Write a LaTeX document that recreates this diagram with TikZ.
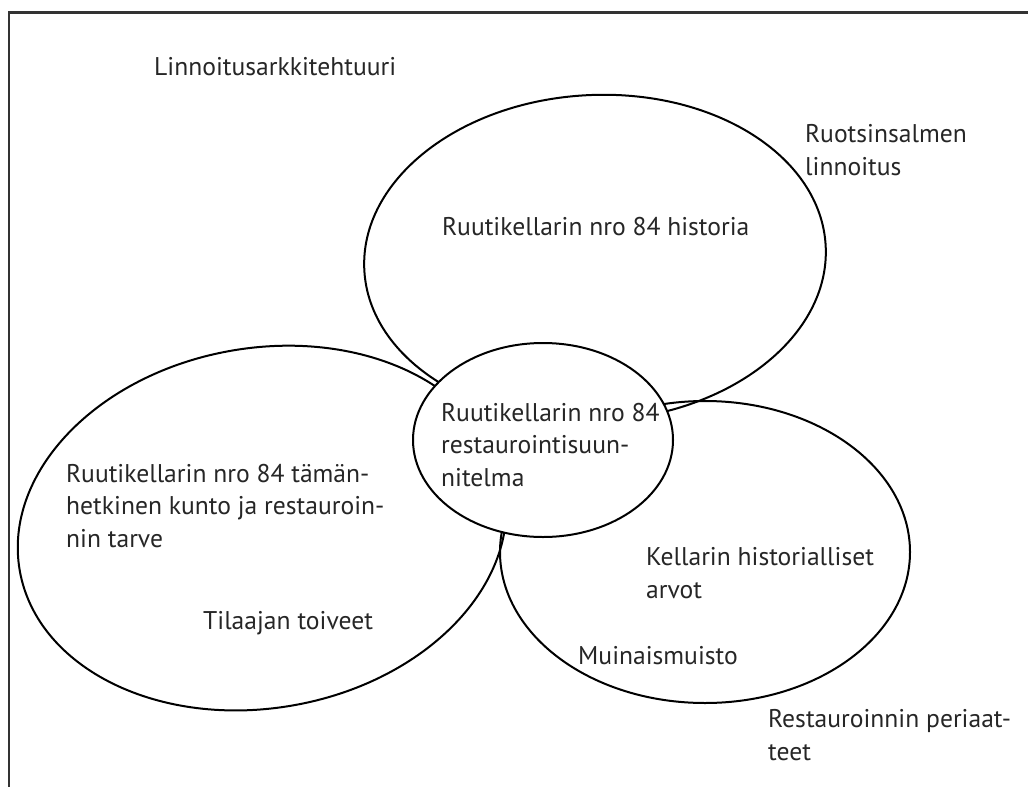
\documentclass[tikz,border=0pt]{standalone}
\usepackage{fontspec}
\setmainfont{PT Sans}
\usepackage{tikz}
\usetikzlibrary{positioning}

\begin{document}
\begin{tikzpicture}[x=1pt,y=-1pt,
  txt/.style={anchor=base west,align=left,inner sep=0pt,
    font=\fontsize{25.6}{32.5}\selectfont,text=black!85},
  ring/.style={draw,line width=2pt}]
\useasboundingbox (0,0) rectangle (1028,787);
% frame
\draw[line width=2.5pt,black!80] (9,787) coordinate (FL)--(9,12.5) coordinate (FC)--(1028,12.5) coordinate (FR);
% outer rings
\coordinate (T) at (595,258);
\coordinate (L) at (262,528);
\coordinate (R) at (705,552);
\draw[ring,rotate around={3:(T)}] (T) ellipse [x radius=231,y radius=163];
\draw[ring,rotate around={10:(L)}] (L) ellipse [x radius=246,y radius=180];
\draw[ring] (R) ellipse [x radius=205,y radius=151];
% centre ring on top
\draw[ring,fill=white] (543,440) ellipse [x radius=130,y radius=97];
% texts (anchor = baseline of last line)
\node[txt] (arch) at (154,75) {Linnoitusarkkitehtuuri};
\node[txt] (fort) at (805,175) {Ruotsinsalmen\\linnoitus};
\node[txt] (hist) at (442,235) {Ruutikellarin nro 84 historia};
\node[txt] (plan) at (441,486) {Ruutikellarin nro 84\\restaurointisuun-\\nitelma};
\node[txt] (cond) at (66,547) {Ruutikellarin nro 84 tämän-\\hetkinen kunto ja restauroin-\\nin tarve};
\node[txt] (wish) at (203,629) {Tilaajan toiveet};
\node[txt] (vals) at (646,598) {Kellarin historialliset\\arvot};
\node[txt] (muin) at (578,664) {Muinaismuisto};
\node[txt] (prin) at (768,760) {Restauroinnin periaat-\\teet};
\end{tikzpicture}
\end{document}
